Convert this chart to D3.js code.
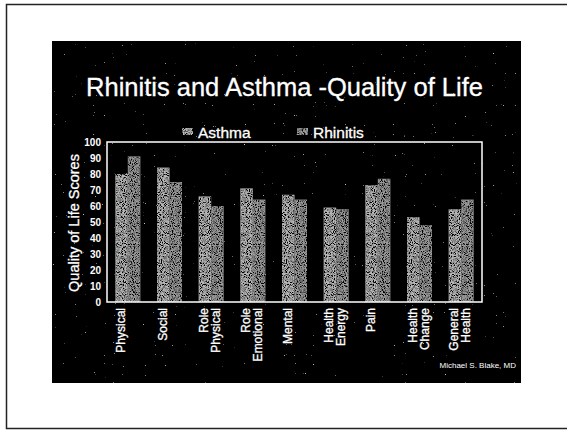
<!DOCTYPE html>
<html>
<head>
<meta charset="utf-8">
<script src="https://cdn.jsdelivr.net/npm/d3@7"></script>
<style>
  html, body { margin: 0; padding: 0; background: #fff; }
  svg { display: block; font-family: "Liberation Sans", Arial, sans-serif; }
</style>
</head>
<body>
<svg id="chart" width="567" height="430"></svg>
<script>
// ---- Data ----
const categories = [
  ["Physical"],
  ["Social"],
  ["Role", "Physical"],
  ["Role", "Emotional"],
  ["Mental"],
  ["Health", "Energy"],
  ["Pain"],
  ["Health", "Change"],
  ["General", "Health"]
];
const seriesNames = ["Asthma", "Rhinitis"];
const asthmaValues   = [80, 84, 66, 71, 67, 59, 73, 53, 58];
const rhinitisValues = [91, 75, 60, 64, 64, 58, 77, 48, 64];
const yTicks = [0, 10, 20, 30, 40, 50, 60, 70, 80, 90, 100];
const titleText = "Rhinitis and Asthma -Quality of Life";
const yAxisTitle = "Quality of Life Scores";
const creditText = "Michael S. Blake, MD";

const colors = { Asthma: "#b8b8b8", Rhinitis: "#9c9c9c" };

const svg = d3.select("#chart");
const defs = svg.append("defs");

// decorative speckle filters (scanned look)
const fBg = defs.append("filter").attr("id", "speck")
  .attr("x", 0).attr("y", 0).attr("width", 1).attr("height", 1);
fBg.append("feTurbulence").attr("type", "fractalNoise").attr("baseFrequency", 0.9)
  .attr("numOctaves", 1).attr("seed", 7).attr("result", "n");
fBg.append("feColorMatrix").attr("in", "n").attr("type", "matrix")
  .attr("values", "0 0 0 0 1  0 0 0 0 1  0 0 0 0 1  6 0 0 0 -4.5").attr("result", "s");
fBg.append("feComposite").attr("in", "s").attr("in2", "SourceGraphic").attr("operator", "in").attr("result", "c");
const m1 = fBg.append("feMerge");
m1.append("feMergeNode").attr("in", "SourceGraphic");
m1.append("feMergeNode").attr("in", "c");

const fBar = defs.append("filter").attr("id", "dither")
  .attr("x", 0).attr("y", 0).attr("width", 1).attr("height", 1);
fBar.append("feTurbulence").attr("type", "fractalNoise").attr("baseFrequency", 1.1)
  .attr("numOctaves", 1).attr("seed", 3).attr("result", "n");
fBar.append("feColorMatrix").attr("in", "n").attr("type", "matrix")
  .attr("values", "0 0 0 0 0  0 0 0 0 0  0 0 0 0 0  4 0 0 0 -1.6").attr("result", "s");
fBar.append("feComposite").attr("in", "s").attr("in2", "SourceGraphic").attr("operator", "in").attr("result", "c");
const m2 = fBar.append("feMerge");
m2.append("feMergeNode").attr("in", "SourceGraphic");
m2.append("feMergeNode").attr("in", "c");

// page border (top, left, bottom)
svg.append("path")
  .attr("d", "M567,4.5 H6.5 V428.5 H567")
  .attr("fill", "none").attr("stroke", "#222").attr("stroke-width", 1.5);

// dark slide panel
svg.append("rect")
  .attr("x", 52).attr("y", 41).attr("width", 469).attr("height", 342)
  .attr("fill", "#000").attr("filter", "url(#speck)");

// title
svg.append("text")
  .attr("x", 284.5).attr("y", 96)
  .attr("text-anchor", "middle")
  .attr("fill", "#fff").attr("font-size", 25.5)
  .attr("stroke", "#fff").attr("stroke-width", 0.3)
  .text(titleText);

// plot area
const plot = { left: 107, right: 482, top: 142, bottom: 302 };

const x0 = d3.scaleBand()
  .domain(categories.map((d, i) => i))
  .range([plot.left, plot.right])
  .paddingInner(0.4).paddingOuter(0.2);
const x1 = d3.scaleBand()
  .domain(seriesNames)
  .range([0, x0.bandwidth()]);
const y = d3.scaleLinear().domain([0, 100]).range([plot.bottom, plot.top]);

// bars
const groups = svg.append("g").selectAll("g")
  .data(categories.map((c, i) => ({ i, vals: [asthmaValues[i], rhinitisValues[i]] })))
  .join("g")
  .attr("transform", d => `translate(${x0(d.i)},0)`);
groups.selectAll("rect")
  .data(d => d.vals.map((v, k) => ({ key: seriesNames[k], v })))
  .join("rect")
  .attr("x", d => x1(d.key))
  .attr("width", x1.bandwidth())
  .attr("y", d => y(d.v))
  .attr("height", d => y(0) - y(d.v))
  .attr("fill", d => colors[d.key])
  .attr("filter", "url(#dither)");

// frame
svg.append("rect")
  .attr("x", plot.left).attr("y", plot.top)
  .attr("width", plot.right - plot.left).attr("height", plot.bottom - plot.top)
  .attr("fill", "none").attr("stroke", "#fff").attr("stroke-width", 1.5);

// y axis
const yAxis = svg.append("g")
  .attr("transform", `translate(${plot.left - 6},0)`)
  .call(d3.axisLeft(y).tickValues(yTicks).tickSize(0).tickPadding(0));
yAxis.select(".domain").remove();
yAxis.selectAll("text")
  .attr("fill", "#fff").attr("font-size", 10).attr("font-weight", "bold")
  .attr("font-family", "Liberation Sans, Arial, sans-serif");

// y axis title
svg.append("text")
  .attr("transform", `translate(79,${(plot.top + plot.bottom) / 2 + 1}) rotate(-90)`)
  .attr("text-anchor", "middle")
  .attr("fill", "#fff").attr("font-size", 14.5)
  .attr("stroke", "#fff").attr("stroke-width", 0.3)
  .text(yAxisTitle);

// x labels
const xl = svg.append("g").selectAll("text")
  .data(categories.map((c, i) => ({ c, i })))
  .join("text")
  .attr("transform", d => `translate(${x0(d.i) + x0.bandwidth() / 2},308) rotate(-90)`)
  .attr("text-anchor", "end")
  .attr("fill", "#fff").attr("font-size", 12)
  .attr("stroke", "#fff").attr("stroke-width", 0.3);
xl.selectAll("tspan")
  .data(d => d.c)
  .join("tspan")
  .attr("x", 0)
  .attr("y", (d, k) => -3 + k * 12)
  .text(d => d);

// legend
const legend = svg.append("g");
const legX = [182, 297];
seriesNames.forEach((name, k) => {
  legend.append("rect")
    .attr("x", legX[k]).attr("y", 128).attr("width", 11).attr("height", 7)
    .attr("fill", colors[name]).attr("filter", "url(#dither)");
  legend.append("text")
    .attr("x", legX[k] + 16).attr("y", 137.5)
    .attr("fill", "#fff").attr("font-size", 15.5)
    .attr("stroke", "#fff").attr("stroke-width", 0.3)
    .text(name);
});

// credit
svg.append("text")
  .attr("x", 516).attr("y", 368)
  .attr("text-anchor", "end")
  .attr("fill", "#fff").attr("font-size", 8)
  .text(creditText);
</script>
</body>
</html>
